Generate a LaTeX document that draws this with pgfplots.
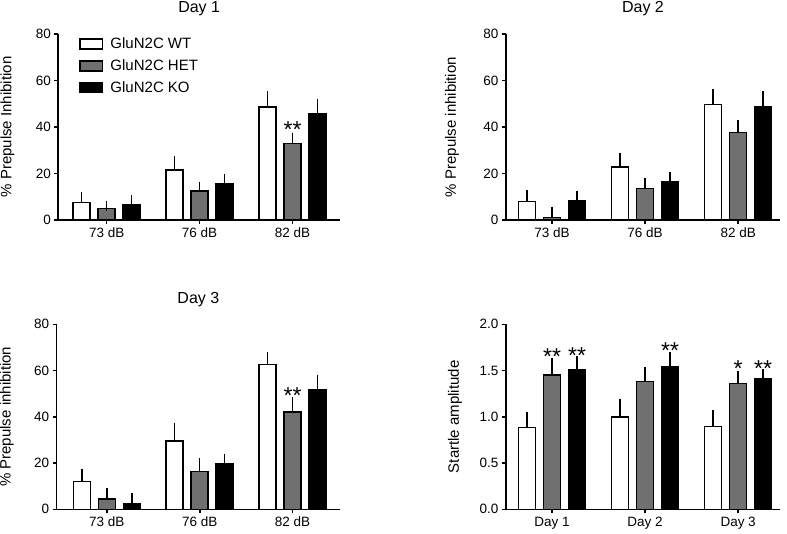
\documentclass[border=0pt]{standalone}
\usepackage{fontspec}
\setmainfont{Liberation Sans}
\usepackage{pgfplots}
\usepackage{pgfplotstable}
\pgfplotsset{compat=1.18}

\definecolor{hetgray}{RGB}{112,112,112}

\pgfplotstableread{
x wt wte het hete ko koe
0 7.6 2.2 5.0 1.2 6.6 2.0
1 21.5 4.0 12.5 1.8 15.8 1.7
2 48.7 4.5 33.0 2.4 45.7 4.3
}\dayone
\pgfplotstableread{
x wt wte het hete ko koe
0 8.0 2.75 1.0 2.6 8.3 2.2
1 22.8 4.0 13.6 2.3 16.3 2.1
2 49.6 4.4 37.7 3.0 48.9 4.3
}\daytwo
\pgfplotstableread{
x wt wte het hete ko koe
0 12.0 3.4 4.5 2.7 2.3 2.5
1 29.5 5.5 16.3 3.6 19.7 2.2
2 62.6 3.3 42.1 4.2 51.6 4.5
}\daythree
\pgfplotstableread{
x wt wte het hete ko koe
0 0.885 0.115 1.452 0.126 1.506 0.100
1 1.000 0.142 1.384 0.097 1.539 0.108
2 0.894 0.122 1.359 0.082 1.413 0.046
}\startle

\tikzset{sigstar/.style={font=\fontsize{23}{23}\selectfont, anchor=center, yshift=-4.8pt, inner sep=0pt}}

\pgfplotsset{
  prism/.style={
    scale only axis,
    ybar=8pt, bar width=17pt,
    axis x line*=bottom, axis y line*=left,
    axis line style={line width=1.6pt, -},
    every tick/.style={line width=1.6pt, black},
    tick align=outside,
    major tick length=4pt,
    xtick={0,1,2},
    ymin=0,
    clip=false,
    /pgf/number format/assume math mode=true,
    xticklabel style={font=\fontsize{13.5}{15}\selectfont},
    yticklabel style={font=\fontsize{13.5}{15}\selectfont},
    ylabel style={font=\fontsize{15}{17}\selectfont, rotate=0, anchor=center},
    title style={font=\fontsize{16}{18}\selectfont, at={(axis description cs:0.5,1)}, anchor=center, yshift=19pt},
  },
  errstyle/.style={error bars/y dir=plus, error bars/y explicit,
    error bars/error bar style={line width=1.5pt, black, solid},
    error bars/error mark options={line width=1.5pt, mark size=5pt, black, solid}},
  wtbar/.style={fill=white, draw=black, line width=1.5pt, errstyle,
    legend image code/.code={\draw[draw=black, fill=white, line width=1.5pt] (0pt,-5pt) rectangle (22pt,5pt);}},
  hetbar/.style={fill=hetgray, draw=black, line width=1.5pt, errstyle,
    legend image code/.code={\draw[draw=black, fill=hetgray, line width=1.5pt] (0pt,-5pt) rectangle (22pt,5pt);}},
  kobar/.style={fill=black, draw=black, line width=1.5pt, errstyle,
    legend image code/.code={\draw[draw=black, fill=black, line width=1.5pt] (0pt,-5pt) rectangle (22pt,5pt);}},
}

\begin{document}
\begin{tikzpicture}
\useasboundingbox (0,0) rectangle (787pt,533pt);

% Day 1
\begin{axis}[prism, at={(58.3pt,313pt)}, anchor=south west,
  width=281.7pt, height=186pt, xmin=-0.52, xmax=2.51, ymax=80,
  ytick={0,20,40,60,80}, xticklabels={73 dB,76 dB,82 dB},
  title={Day 1},
  ylabel={\% Prepulse Inhibition},
  ylabel style={at={(axis description cs:-0.18,0.5)}, rotate=0},
  legend style={at={(axis description cs:0,1)}, anchor=north west, draw=none, fill=none,
    xshift=18pt, yshift=0pt, row sep=6.5pt, font=\fontsize{15}{17}\selectfont,
    nodes={inner sep=1.5pt}},
  legend cell align=left]
\addplot[wtbar] table[x=x, y=wt, y error=wte] {\dayone};
\addlegendentry{\hspace{6pt}GluN2C WT}
\addplot[hetbar] table[x=x, y=het, y error=hete] {\dayone};
\addlegendentry{\hspace{6pt}GluN2C HET}
\addplot[kobar] table[x=x, y=ko, y error=koe] {\dayone};
\addlegendentry{\hspace{6pt}GluN2C KO}
\node[sigstar] at (axis cs:2,40.9) {**};
\end{axis}

% Day 2
\begin{axis}[prism, at={(506pt,313pt)}, anchor=south west,
  width=274pt, height=186pt, xmin=-0.495, xmax=2.45, ymax=80,
  ytick={0,20,40,60,80}, xticklabels={73 dB,76 dB,82 dB},
  title={Day 2},
  ylabel={\% Prepulse inhibition},
  ylabel style={at={(axis description cs:-0.197,0.5)}, rotate=0}]
\addplot[wtbar] table[x=x, y=wt, y error=wte] {\daytwo};
\addplot[hetbar] table[x=x, y=het, y error=hete] {\daytwo};
\addplot[kobar] table[x=x, y=ko, y error=koe] {\daytwo};
\end{axis}

% Day 3
\begin{axis}[prism, at={(56.7pt,23.7pt)}, anchor=south west,
  width=283.3pt, height=185pt, xmin=-0.54, xmax=2.51, ymax=80,
  ytick={0,20,40,60,80}, xticklabels={73 dB,76 dB,82 dB},
  title={Day 3},
  ylabel={\% Prepulse inhibition},
  ylabel style={at={(axis description cs:-0.176,0.5)}, rotate=0}]
\addplot[wtbar] table[x=x, y=wt, y error=wte] {\daythree};
\addplot[hetbar] table[x=x, y=het, y error=hete] {\daythree};
\addplot[kobar] table[x=x, y=ko, y error=koe] {\daythree};
\node[sigstar] at (axis cs:2,51.3) {**};
\end{axis}

% Startle
\begin{axis}[prism, at={(506pt,23.7pt)}, anchor=south west,
  width=274pt, height=185pt, xmin=-0.495, xmax=2.45, ymax=2,
  ytick={0,0.5,1,1.5,2}, xticklabels={Day 1,Day 2,Day 3},
  yticklabel style={/pgf/number format/.cd, fixed, fixed zerofill, precision=1},
  ylabel={Startle amplitude},
  ylabel style={at={(axis description cs:-0.186,0.5)}, rotate=0}]
\addplot[wtbar] table[x=x, y=wt, y error=wte] {\startle};
\addplot[hetbar] table[x=x, y=het, y error=hete] {\startle};
\addplot[kobar] table[x=x, y=ko, y error=koe] {\startle};
\node[sigstar] at (axis cs:0,1.704) {**};
\node[sigstar] at (axis cs:0.269,1.711) {**};
\node[sigstar] at (axis cs:1.269,1.769) {**};
\node[sigstar] at (axis cs:2,1.568) {*};
\node[sigstar] at (axis cs:2.269,1.574) {**};
\end{axis}
\end{tikzpicture}
\end{document}
